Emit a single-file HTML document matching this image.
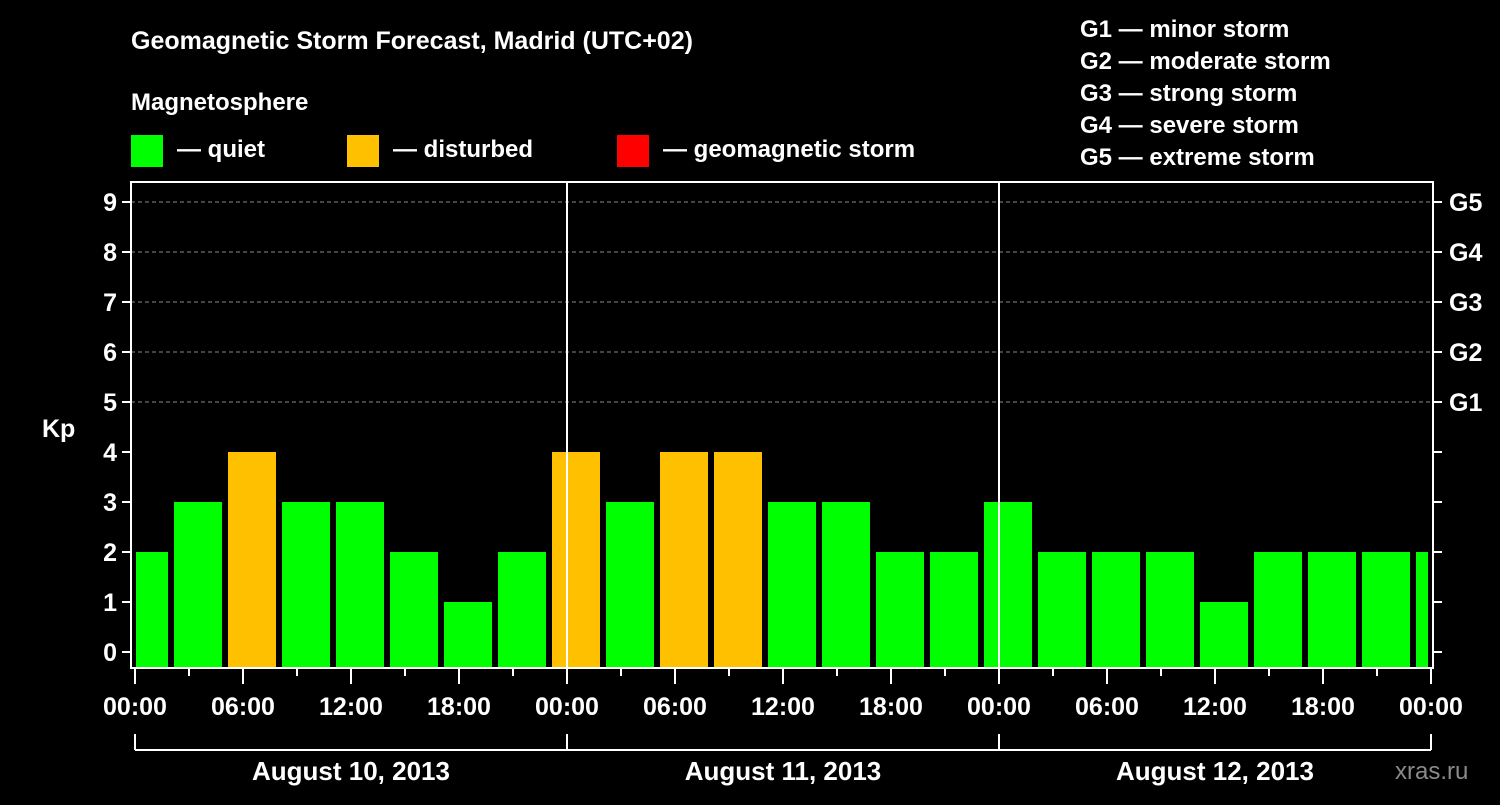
<!DOCTYPE html>
<html><head><meta charset="utf-8">
<style>
body{margin:0;background:#000;width:1500px;height:800px;overflow:hidden;font-family:"Liberation Sans",sans-serif;}
svg text{font-family:"Liberation Sans",sans-serif;font-weight:bold;fill:#fff;}
</style></head>
<body>
<svg id="chart" width="1500" height="800" xmlns="http://www.w3.org/2000/svg">
<text x="131" y="49" font-size="25">Geomagnetic Storm Forecast, Madrid (UTC+02)</text>
<text x="131" y="110" font-size="24">Magnetosphere</text>
<g>
<rect x="131" y="135" width="32" height="32" fill="#00ff00"/>
<text x="177" y="157" font-size="24">— quiet</text>
<rect x="347" y="135" width="32" height="32" fill="#ffc000"/>
<text x="393" y="157" font-size="24">— disturbed</text>
<rect x="617" y="135" width="32" height="32" fill="#ff0000"/>
<text x="663" y="157" font-size="24">— geomagnetic storm</text>
</g>
<g font-size="24">
<text x="1080" y="37">G1 — minor storm</text>
<text x="1080" y="69">G2 — moderate storm</text>
<text x="1080" y="101">G3 — strong storm</text>
<text x="1080" y="133">G4 — severe storm</text>
<text x="1080" y="165">G5 — extreme storm</text>
</g>
<text x="42" y="437" font-size="25">Kp</text>
<text x="1395" y="779" font-size="24" fill="#888" style="fill:#8a8a8a;font-weight:normal">xras.ru</text>
<g id="grid"></g><g id="bars"></g><g id="axes"></g>
</svg>
<script>
const kpValues=[2,3,4,3,3,2,1,2,4,3,4,4,3,3,2,2,3,2,2,2,1,2,2,2,2];
const binStartHours=[-1,2,5,8,11,14,17,20,23,26,29,32,35,38,41,44,47,50,53,56,59,62,65,68,71];
const dayLabels=["August 10, 2013","August 11, 2013","August 12, 2013"];
const hourLabels=["00:00","06:00","12:00","18:00"];
const gLabels=["G1","G2","G3","G4","G5"];
const NS="http://www.w3.org/2000/svg";
const X0=135,PXH=18,Y0=652,PXK=50,LEFT=131,RIGHT=1433,TOP=182,BOT=668;
const xs=h=>X0+h*PXH, ys=k=>Y0-k*PXK;
function mk(tag,attrs,parent){const e=document.createElementNS(NS,tag);for(const k in attrs)e.setAttribute(k,attrs[k]);parent.appendChild(e);return e;}
const grid=document.getElementById('grid'),bars=document.getElementById('bars'),axes=document.getElementById('axes');
for(let k=5;k<=9;k++){const l=mk('line',{x1:LEFT,x2:RIGHT,y1:ys(k),y2:ys(k),stroke:'#888','stroke-dasharray':'4,3','stroke-width':1},grid);

}
binStartHours.forEach((h,i)=>{const v=kpValues[i];
const x1=Math.max(xs(h)+3,LEFT+5),x2=Math.min(xs(h+3)-3,RIGHT-5);
const col=v>=5?'#ff0000':(v>=4?'#ffc000':'#00ff00');
const r=mk('rect',{x:x1,y:ys(v),width:x2-x1,height:BOT-ys(v),fill:col},bars);

});
[1,2].forEach(d=>{const l=mk('line',{x1:xs(24*d),x2:xs(24*d),y1:TOP,y2:BOT,stroke:'#fff','stroke-width':2},axes);

});
const fr=mk('rect',{x:LEFT,y:TOP,width:RIGHT-LEFT,height:BOT-TOP,fill:'none',stroke:'#fff','stroke-width':2},axes);


for(let k=0;k<=9;k++){
mk('line',{x1:LEFT-9,x2:LEFT,y1:ys(k),y2:ys(k),stroke:'#fff','stroke-width':2},axes);
mk('line',{x1:RIGHT,x2:RIGHT+9,y1:ys(k),y2:ys(k),stroke:'#fff','stroke-width':2},axes);
const t=mk('text',{x:LEFT-14,y:ys(k)+9,'font-size':25,'text-anchor':'end'},axes);t.textContent=k;


if(k>=5){const g=mk('text',{x:RIGHT+16,y:ys(k)+9,'font-size':25},axes);g.textContent=gLabels[k-5];

}}
for(let h=0;h<=72;h+=3){const major=h%6===0;
mk('line',{x1:xs(h),x2:xs(h),y1:BOT,y2:BOT+(major?16:8),stroke:'#fff','stroke-width':2},axes);
if(major){const t=mk('text',{x:xs(h),y:715,'font-size':25,'text-anchor':'middle'},axes);t.textContent=hourLabels[(h/6)%4];

}}
mk('line',{x1:xs(0),x2:xs(72),y1:750,y2:750,stroke:'#fff','stroke-width':2},axes);
for(let d=0;d<=3;d++)mk('line',{x1:xs(24*d),x2:xs(24*d),y1:734,y2:750,stroke:'#fff','stroke-width':2},axes);
dayLabels.forEach((s,d)=>{const t=mk('text',{x:xs(24*d+12),y:780,'font-size':26,'text-anchor':'middle'},axes);t.textContent=s;

});
</script>
</body></html>
